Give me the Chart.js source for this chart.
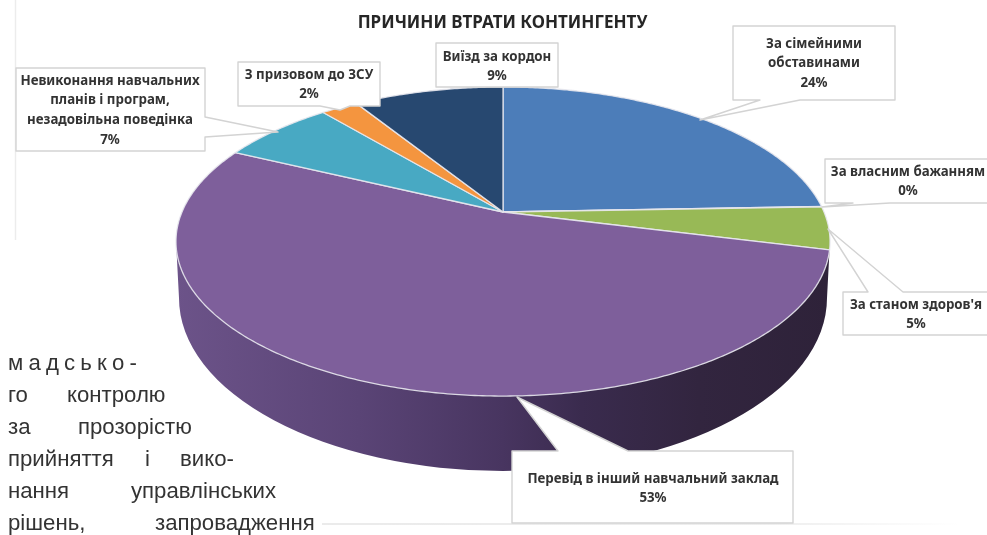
<!DOCTYPE html>
<html>
<head>
<meta charset="utf-8">
<title>Причини втрати контингенту</title>
<script src="https://cdn.jsdelivr.net/npm/chart.js@4"></script>
<style>
  html, body { margin: 0; padding: 0; background: #fff; }
  canvas { display: block; }
</style>
</head>
<body>
<canvas id="lossChart" width="987" height="535"></canvas>
<script>
// Chart data
const titleText = 'ПРИЧИНИ ВТРАТИ КОНТИНГЕНТУ';
const categories = ['За сімейними обставинами', 'За власним бажанням', "За станом здоров'я", 'Перевід в інший навчальний заклад', 'Невиконання навчальних планів і програм, незадовільна поведінка', 'З призовом до ЗСУ', 'Виїзд за кордон'];
const values = [24.4, 0.05, 4.45, 53.2, 6.8, 2.2, 8.9];
const percentLabels = ['24%', '0%', '5%', '53%', '7%', '2%', '9%'];
const sliceColors = ['#4c7db9', '#c0504d', '#98b956', '#7e5f9b', '#48a9c3', '#f4953f', '#274870'];

// Callout boxes, same order as categories
const callouts = [
    { box: [733, 26, 895, 100], tip: [[760, 700, 800], 120], side: 'bottom', lines: ['За сімейними', 'обставинами'], cx: 814, y: 44 },
    { box: [825, 159, 990, 203], tip: [[853, 822, 890], 207], side: 'bottom', lines: ['За власним бажанням'], cx: 908, y: 172 },
    { box: [843, 292, 990, 335], tip: [[868, 828, 903], 229], side: 'top', lines: ["За станом здоров'я"], cx: 916, y: 305 },
    { box: [512, 451, 793, 523], tip: [[558, 517, 628], 397], side: 'top', lines: ['Перевід в інший навчальний заклад'], cx: 653, y: 479 },
    { box: [16, 68, 205, 151], tip: [[117, 278, 137], 132], side: 'right', lines: ['Невиконання навчальних', 'планів і програм,', 'незадовільна поведінка'], cx: 110, y: 81 },
    { box: [238, 62, 380, 106], tip: [[320, 340, 350], 110], side: 'bottom', lines: ['З призовом до ЗСУ'], cx: 309, y: 75 },
    { box: [436, 43, 558, 87], tip: null, lines: ['Виїзд за кордон'], cx: 497, y: 57 }
];

// Page text around the chart
const pageLines = [
    [['м а д с ь к о -', 8]],
    [['го', 8], ['контролю', 67]],
    [['за', 8], ['прозорістю', 78]],
    [['прийняття', 8], ['і', 145], ['вико-', 180]],
    [['нання', 8], ['управлінських', 131]],
    [['рішень,', 8], ['запровадження', 155]]
];

// Perspective of the disc
const apex = { x: 503, y: 212 };
const disc = { rx: 321, ry: 148.9, p: -0.191 };
const wall = { cy: 298, rx: 324, ry: 173 };

function project(angle) {
    const sx = Math.cos(angle);
    const sy = Math.sin(angle);
    const w = 1 + disc.p * sy;
    return [apex.x + disc.rx * sx / w, apex.y + disc.ry * sy / w];
}

const pie3d = {
    id: 'pie3d',
    beforeDatasetsDraw(chart) {
        const ctx = chart.ctx;

        // side wall
        const grad = ctx.createLinearGradient(176, 0, 830, 0);
        grad.addColorStop(0, '#6c5389');
        grad.addColorStop(0.28, '#5a4476');
        grad.addColorStop(0.5, '#483560');
        grad.addColorStop(0.62, '#3a2b4e');
        grad.addColorStop(0.8, '#32253f');
        grad.addColorStop(1, '#2e2239');
        ctx.beginPath();
        ctx.ellipse(apex.x, wall.cy, wall.rx, wall.ry, 0, 0, Math.PI);
        ctx.lineTo(176, 241);
        ctx.lineTo(830, 241);
        ctx.closePath();
        ctx.fillStyle = grad;
        ctx.fill();

        // top of the disc, from the arcs Chart.js laid out
        const arcs = chart.getDatasetMeta(0).data;
        arcs.forEach(function (arc, i) {
            const span = arc.endAngle - arc.startAngle;
            const steps = Math.max(2, Math.ceil(span / 0.01));
            ctx.beginPath();
            ctx.moveTo(apex.x, apex.y);
            for (let s = 0; s <= steps; s++) {
                const pt = project(arc.startAngle + span * s / steps);
                ctx.lineTo(pt[0], pt[1]);
            }
            ctx.closePath();
            ctx.fillStyle = sliceColors[i];
            ctx.fill();
            ctx.strokeStyle = 'rgba(232, 232, 238, 0.9)';
            ctx.lineWidth = 1.3;
            ctx.lineJoin = 'round';
            ctx.stroke();
        });
        return false;
    },
    afterDraw(chart) {
        const ctx = chart.ctx;

        // faint scan edges
        const fade = ctx.createLinearGradient(322, 0, 960, 0);
        fade.addColorStop(0, '#e4e4e4');
        fade.addColorStop(0.7, '#e8e8e8');
        fade.addColorStop(1, '#ffffff');
        ctx.lineWidth = 1.5;
        ctx.strokeStyle = '#ececec';
        ctx.beginPath();
        ctx.moveTo(15.5, 0);
        ctx.lineTo(15.5, 240);
        ctx.stroke();
        ctx.strokeStyle = fade;
        ctx.beginPath();
        ctx.moveTo(322, 524);
        ctx.lineTo(960, 524);
        ctx.stroke();

        callouts.forEach(function (c, i) {
            const [x0, y0, x1, y1] = c.box;
            ctx.beginPath();
            ctx.moveTo(x0, y0);
            if (c.tip && c.side === 'top') {
                ctx.lineTo(c.tip[0][0], y0);
                ctx.lineTo(c.tip[0][1], c.tip[1]);
                ctx.lineTo(c.tip[0][2], y0);
            }
            ctx.lineTo(x1, y0);
            if (c.tip && c.side === 'right') {
                ctx.lineTo(x1, c.tip[0][0]);
                ctx.lineTo(c.tip[0][1], c.tip[1]);
                ctx.lineTo(x1, c.tip[0][2]);
            }
            ctx.lineTo(x1, y1);
            if (c.tip && c.side === 'bottom') {
                ctx.lineTo(c.tip[0][2], y1);
                ctx.lineTo(c.tip[0][1], c.tip[1]);
                ctx.lineTo(c.tip[0][0], y1);
            }
            ctx.lineTo(x0, y1);
            ctx.closePath();
            ctx.fillStyle = '#fff';
            ctx.fill();
            ctx.strokeStyle = '#d3d3d3';
            ctx.lineWidth = 1.4;
            ctx.stroke();

            ctx.fillStyle = '#333';
            ctx.font = 'bold 13.3px "Noto Sans"';
            ctx.textAlign = 'center';
            ctx.textBaseline = 'middle';
            c.lines.concat(percentLabels[i]).forEach(function (line, n) {
                ctx.fillText(line, c.cx, c.y + n * 19.7);
            });
        });

        ctx.fillStyle = '#333';
        ctx.font = '22.2px "Liberation Sans"';
        ctx.wordSpacing = '-1px';
        ctx.textAlign = 'left';
        ctx.textBaseline = 'alphabetic';
        pageLines.forEach(function (words, n) {
            words.forEach(function (w) {
                ctx.fillText(w[0], w[1], 370 + n * 32);
            });
        });
        ctx.wordSpacing = '0px';
    }
};

new Chart(document.getElementById('lossChart').getContext('2d'), {
    type: 'pie',
    data: {
        labels: categories,
        datasets: [{
            data: values,
            backgroundColor: sliceColors
        }]
    },
    options: {
        responsive: false,
        animation: false,
        layout: { padding: { left: 18 } },
        plugins: {
            legend: { display: false },
            tooltip: { enabled: false },
            title: {
                display: true,
                text: titleText,
                color: '#262626',
                font: { family: '"Noto Sans"', size: 17, weight: 'bold' },
                padding: { top: 13, bottom: 10 }
            }
        }
    },
    plugins: [pie3d]
});
</script>
</body>
</html>
